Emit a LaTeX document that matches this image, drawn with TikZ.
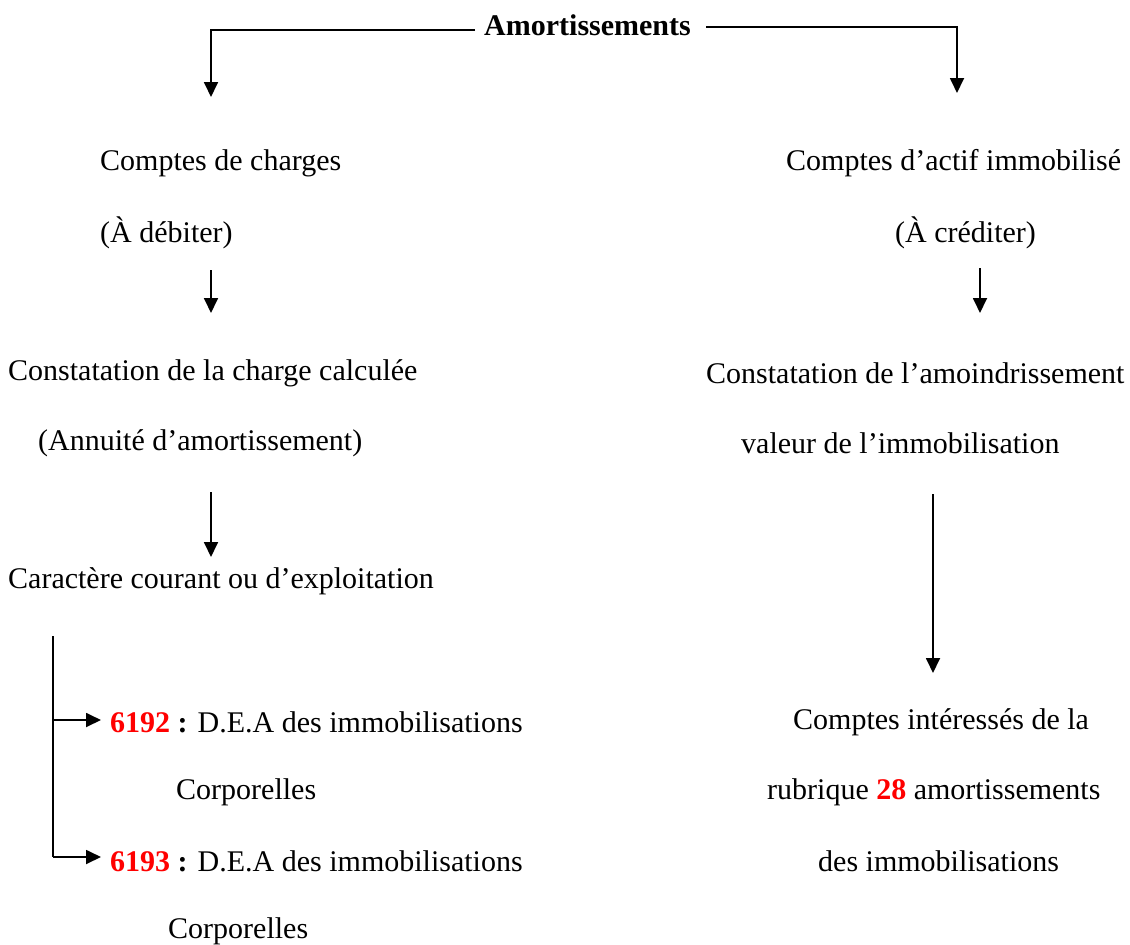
\documentclass[tikz,border=0pt]{standalone}
\usepackage{fontspec}
\setmainfont{Liberation Serif}
\usetikzlibrary{arrows.meta}
\definecolor{codered}{RGB}{255,0,0}
\tikzset{
  txt/.style={anchor=west, inner sep=0pt, font=\fontsize{30}{36}\selectfont},
  ln/.style={line width=1.8pt},
  arr/.style={line width=1.8pt, -{Triangle[width=14pt,length=15pt]}},
}
\newcommand{\code}[1]{\textbf{\textcolor{codered}{#1}}}
\begin{document}
\begin{tikzpicture}[x=1pt,y=-1pt]
\useasboundingbox (0,0) rectangle (1130,945);
% title
\node[txt] (title) at (484,25) {\textbf{Amortissements}};
\coordinate (tl1) at (475,30);
\coordinate (tl2) at (211,30);
\coordinate (tl3) at (211,97);
\coordinate (tr1) at (706,27);
\coordinate (tr2) at (957,27);
\coordinate (tr3) at (957,93);
\draw[arr] (tl1) -- (tl2) -- (tl3);
\draw[arr] (tr1) -- (tr2) -- (tr3);
% left column
\node[txt] (l1) at (100,163) {Comptes de charges};
\node[txt] (l2) at (100,233) {(À débiter)};
\coordinate (la1) at (211,270);
\coordinate (la2) at (211,313);
\draw[arr] (la1) -- (la2);
\node[txt] (l3) at (8,373) {Constatation de la charge calculée};
\node[txt] (l4) at (38,443) {(Annuité d’amortissement)};
\coordinate (lb1) at (211,492);
\coordinate (lb2) at (211,557);
\draw[arr] (lb1) -- (lb2);
\node[txt] (l5) at (8,581) {Caractère courant ou d’exploitation};
\node[txt] (l6) at (110,722) {\code{6192} \textbf{:} D.E.A des immobilisations};
\node[txt] (l7) at (176,792) {Corporelles};
\node[txt] (l8) at (110,861) {\code{6193} \textbf{:} D.E.A des immobilisations};
\node[txt] (l9) at (168,931) {Corporelles};
\coordinate (v1) at (53,636);
\coordinate (v2) at (53,720);
\coordinate (v3) at (53,857);
\coordinate (h1) at (101,720);
\coordinate (h2) at (101,857);
\draw[ln] (v1) -- (v3);
\draw[arr] (v2) -- (h1);
\draw[arr] (v3) -- (h2);
% right column
\node[txt] (r1) at (786,163) {Comptes d’actif immobilisé};
\node[txt] (r2) at (895,233) {(À créditer)};
\coordinate (ra1) at (980,268);
\coordinate (ra2) at (980,313);
\draw[arr] (ra1) -- (ra2);
\node[txt] (r3) at (706,373) {Constatation de l’amoindrissement};
\node[txt] (r4) at (741,443) {valeur de l’immobilisation};
\coordinate (rb1) at (933,494);
\coordinate (rb2) at (933,673);
\draw[arr] (rb1) -- (rb2);
\node[txt] (r5) at (793,722) {Comptes intéressés de la};
\node[txt] (r6) at (767,792) {rubrique \code{28} amortissements};
\node[txt] (r7) at (818,861) {des immobilisations};
\end{tikzpicture}
\end{document}
